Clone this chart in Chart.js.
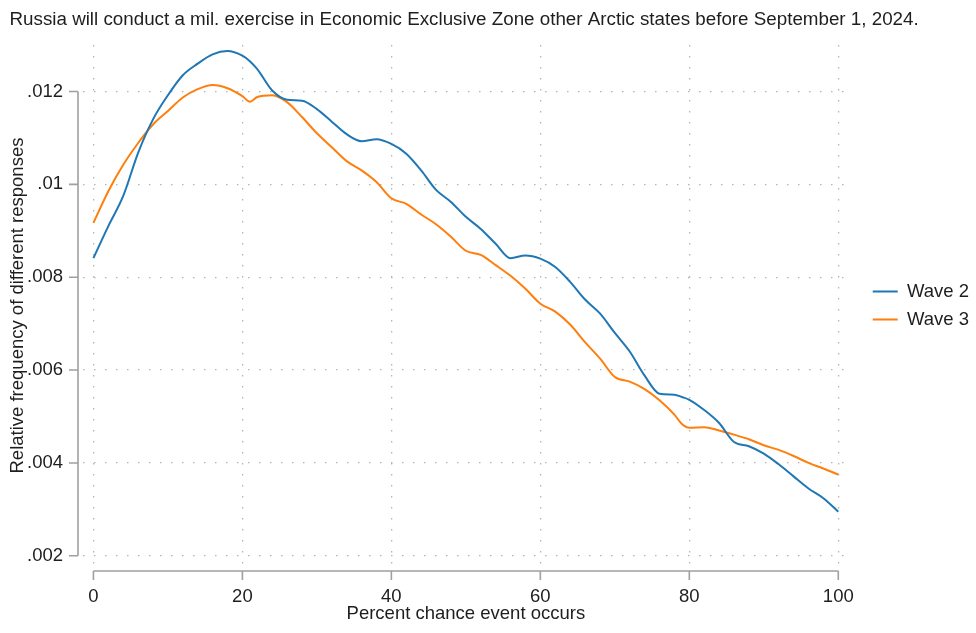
<!DOCTYPE html>
<html>
<head>
<meta charset="utf-8">
<script src="https://cdn.jsdelivr.net/npm/chart.js@4.4.1/dist/chart.umd.min.js"></script>
<style>
  html, body { margin: 0; padding: 0; background: #fff; }
  #wrap { width: 976px; height: 633px; }
</style>
</head>
<body>
<div id="wrap"><canvas id="densityChart" width="976" height="633"></canvas></div>
<script>
// percent chance (x) and the two density curves
const pctChance = [0, 2, 4, 6, 8, 10, 12, 14, 16, 18, 20, 21, 22, 24, 26, 28, 30, 32, 34, 36, 38, 40,
  42, 44, 46, 48, 50, 52, 54, 56, 58, 60, 62, 64, 66, 68, 70, 72, 74, 76, 78, 79, 80,
  82, 84, 86, 88, 90, 92, 94, 96, 98, 100];

const wave2 = [.00841, .00910, .00975, .01068, .01140, .01192, .01235, .01260, .01280, .01287, .01277, .01265,
  .01248, .01202, .01182, .01180, .01162, .01135, .01108, .01093, .01097, .01087,
  .01066, .01030, .00988, .00962, .00930, .00904, .00872, .00841, .00847, .00840,
  .00822, .00790, .00752, .00722, .00680, .00640, .00588, .00549, .00547, .00542, .00536,
  .00514, .00486, .00445, .00436, .00420, .00397, .00371, .00345, .00324, .00295];

const wave3 = [.00917, .00985, .01042, .01089, .01129, .01158, .01187, .01205, .01214, .01207, .01190, .01178,
  .01188, .01192, .01177, .01145, .01110, .01080, .01050, .01030, .01005, .00970,
  .00958, .00935, .00914, .00887, .00857, .00848, .00826, .00803, .00775, .00743,
  .00726, .00698, .00660, .00625, .00585, .00575, .00559, .00535, .00504, .00484, .00476,
  .00477, .00470, .00461, .00451, .00438, .00428, .00415, .00400, .00388, .00375];

const xTicks = [0, 20, 40, 60, 80, 100];
const yTicks = [.002, .004, .006, .008, .01, .012];
const yTickLabels = ['.002', '.004', '.006', '.008', '.01', '.012'];

const FONT = 'Liberation Sans, Arial, Helvetica, sans-serif';
const TXT = '#1e1e1e';
const AXIS = '#a0a0a0';

// stata-like axis lines, pulled away from the plot region
const axisLines = {
    id: 'axisLines',
    afterDraw(chart) {
        const ctx = chart.ctx;
        const xs = chart.scales.x, ys = chart.scales.y;
        const area = chart.chartArea;
        const ax = area.left - 5, ay = area.bottom + 5;
        ctx.save();
        ctx.strokeStyle = AXIS;
        ctx.lineWidth = 1.6;
        ctx.beginPath();
        ctx.moveTo(ax, ys.getPixelForValue(yTicks[0]));
        ctx.lineTo(ax, ys.getPixelForValue(yTicks[yTicks.length - 1]));
        yTicks.forEach(v => {
            const p = ys.getPixelForValue(v);
            ctx.moveTo(ax, p);
            ctx.lineTo(ax - 9, p);
        });
        ctx.moveTo(xs.getPixelForValue(xTicks[0]), ay);
        ctx.lineTo(xs.getPixelForValue(xTicks[xTicks.length - 1]), ay);
        xTicks.forEach(v => {
            const p = xs.getPixelForValue(v);
            ctx.moveTo(p, ay);
            ctx.lineTo(p, ay + 9);
        });
        ctx.stroke();
        ctx.restore();
    }
};

const data = {
    datasets: [{
        label: 'Wave 2',
        borderColor: 'rgb(31, 119, 180)',
        backgroundColor: 'rgb(31, 119, 180)',
        borderWidth: 2,
        pointRadius: 0,
        cubicInterpolationMode: 'monotone',
        data: pctChance.map((x, i) => ({ x: x, y: wave2[i] })),
    }, {
        label: 'Wave 3',
        borderColor: 'rgb(255, 127, 14)',
        backgroundColor: 'rgb(255, 127, 14)',
        borderWidth: 2,
        pointRadius: 0,
        cubicInterpolationMode: 'monotone',
        data: pctChance.map((x, i) => ({ x: x, y: wave3[i] })),
    }]
};

const gridOpts = { color: '#b4b4b4', lineWidth: 1.3, drawTicks: false };
const borderOpts = { display: false, dash: [1.5, 9.5] };

const config = {
    type: 'line',
    data: data,
    options: {
        responsive: false,
        animation: false,
        layout: { padding: { left: 9.5, right: -3, top: 0, bottom: 0 } },
        plugins: {
            title: {
                display: true,
                align: 'start',
                text: 'Russia will conduct a mil. exercise in Economic Exclusive Zone other Arctic states before September 1, 2024.',
                color: TXT,
                font: { family: FONT, size: 18.8, weight: 'normal' },
                padding: { top: 8.5, bottom: 14 }
            },
            legend: {
                position: 'right',
                align: 'center',
                fullSize: false,
                labels: {
                    usePointStyle: true,
                    pointStyle: 'line',
                    pointStyleWidth: 25,
                    boxHeight: 2,
                    padding: 9.5,
                    color: TXT,
                    font: { family: FONT, size: 18.5 }
                }
            },
            tooltip: { enabled: false }
        },
        scales: {
            x: {
                type: 'linear',
                min: -1.4,
                max: 101.4,
                afterBuildTicks: s => { s.ticks = xTicks.map(v => ({ value: v })); },
                afterFit: s => { s.height = 67; },
                grid: gridOpts,
                border: borderOpts,
                ticks: { padding: 20, color: TXT, font: { family: FONT, size: 18.5 }, maxRotation: 0 },
                title: {
                    display: true,
                    text: 'Percent chance event occurs',
                    color: TXT,
                    font: { family: FONT, size: 18.5 },
                    padding: { top: 0, bottom: 8 }
                }
            },
            y: {
                type: 'linear',
                min: 0.00178,
                max: 0.0130,
                afterBuildTicks: s => { s.ticks = yTicks.map(v => ({ value: v })); },
                afterFit: s => { s.width = 73.5; },
                grid: gridOpts,
                border: borderOpts,
                ticks: {
                    padding: 20,
                    color: TXT,
                    font: { family: FONT, size: 18.5 },
                    callback: (v) => yTickLabels[yTicks.indexOf(v)] ?? ''
                },
                title: {
                    display: true,
                    text: 'Relative frequency of different responses',
                    color: TXT,
                    font: { family: FONT, size: 18.5 },
                    padding: { top: -3, bottom: 0 }
                }
            },
            gap: {
                type: 'linear',
                position: 'right',
                display: true,
                afterFit: s => { s.width = 14.5; },
                grid: { display: false, drawOnChartArea: false },
                border: { display: false },
                ticks: { display: false }
            }
        }
    },
    plugins: [axisLines]
};

const densityChart = new Chart(
    document.getElementById('densityChart'),
    config
);
</script>
</body>
</html>
